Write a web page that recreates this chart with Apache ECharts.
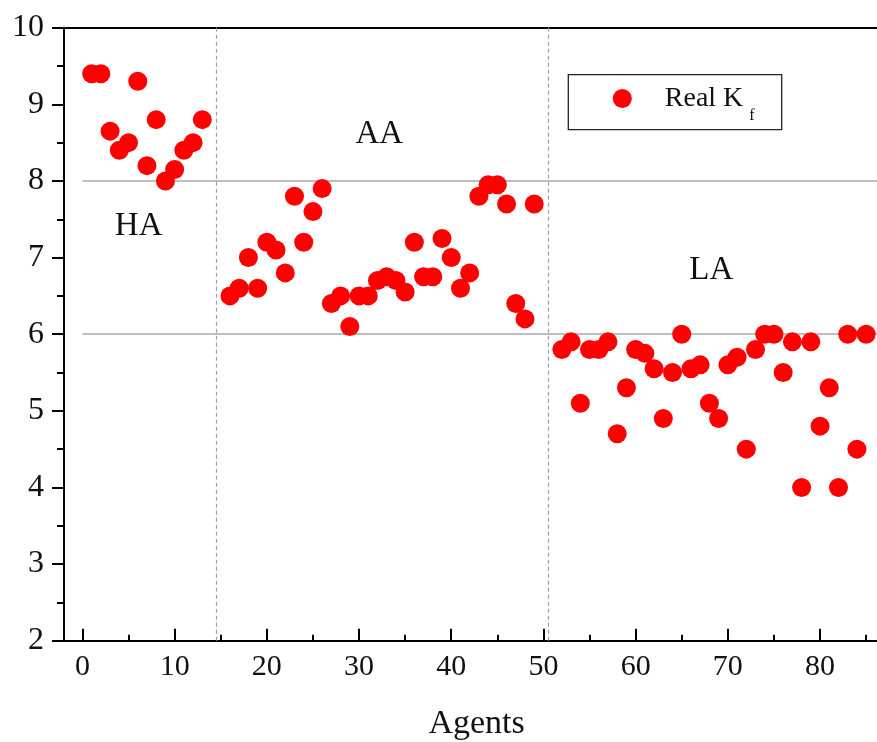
<!DOCTYPE html>
<html>
<head>
<meta charset="utf-8">
<script src="https://cdn.jsdelivr.net/npm/echarts@6/dist/echarts.min.js"></script>
<style>
html,body{margin:0;padding:0;background:#fff;}
#chart{width:877px;height:742px;}
</style>
</head>
<body>
<div id="chart"></div>
<script>
// ---- data ----
const haAgents = [1,2,3,4,5,6,7,8,9,10,11,12,13];
const haKf = [9.4,9.4,8.65,8.4,8.5,9.3,8.2,8.8,8.0,8.15,8.4,8.5,8.8];
const aaAgents = [16,17,18,19,20,21,22,23,24,25,26,27,28,29,30,31,32,33,34,35,36,37,38,39,40,41,42,43,44,45,46,47,48,49];
const aaKf = [6.5,6.6,7.0,6.6,7.2,7.1,6.8,7.8,7.2,7.6,7.9,6.4,6.5,6.1,6.5,6.5,6.7,6.75,6.7,6.55,7.2,6.75,6.75,7.25,7.0,6.6,6.8,7.8,7.95,7.95,7.7,6.4,6.2,7.7];
const laAgents = [52,53,54,55,56,57,58,59,60,61,62,63,64,65,66,67,68,69,70,71,72,73,74,75,76,77,78,79,80,81,82,83,84,85];
const laKf = [5.8,5.9,5.1,5.8,5.8,5.9,4.7,5.3,5.8,5.75,5.55,4.9,5.5,6.0,5.55,5.6,5.1,4.9,5.6,5.7,4.5,5.8,6.0,6.0,5.5,5.9,4.0,5.9,4.8,5.3,4.0,6.0,4.5,6.0];
const groupBounds = [14.5, 50.5];        // dashed separators
const refLevels = [8, 6];                // grey reference lines
const groupNames = ['HA', 'AA', 'LA'];
const groupLabelPos = [[6.1, 7.41], [32.2, 8.61], [68.2, 6.83]];
const seriesName = 'Real K';
const xName = 'Agents';

const agents = haAgents.concat(aaAgents, laAgents);
const kf = haKf.concat(aaKf, laKf);
const points = agents.map((a, i) => [a, kf[i]]);

const XMIN = -2, XMAX = 87.5;
const serif = "'Liberation Serif','Times New Roman',serif";
const ink = '#111';

const chart = echarts.init(document.getElementById('chart'), null, {renderer: 'canvas'});
chart.setOption({
  animation: false,
  backgroundColor: '#fff',
  grid: {left: 64, top: 27.7, width: 825.2, height: 613, containLabel: false, outerBoundsMode: 'none'},
  legend: {
    data: [seriesName],
    left: 612.8, top: 84.5, padding: 0,
    itemWidth: 19, itemHeight: 19, icon: 'circle',
    formatter: () => '{a|Real K}{b|f}',
    textStyle: {
      color: ink, fontFamily: serif,
      rich: {
        a: {fontSize: 28, fontFamily: serif, color: ink, padding: [0, 0, 0, 28]},
        b: {fontSize: 16, fontFamily: serif, color: ink, padding: [34, 0, 0, 6]}
      }
    }
  },
  graphic: [{
    type: 'rect', shape: {x: 568.3, y: 74.7, width: 213.4, height: 55},
    style: {fill: 'none', stroke: '#222', lineWidth: 1.3}, silent: true
  }],
  xAxis: [{
    type: 'value', min: XMIN, max: XMAX, splitNumber: 9,
    name: xName, nameLocation: 'middle', nameGap: 66,
    nameTextStyle: {fontFamily: serif, fontSize: 34, color: ink},
    axisLine: {show: true, onZero: false, lineStyle: {color: '#000', width: 2}},
    axisTick: {show: true, inside: true, length: 12, lineStyle: {color: '#000', width: 2}},
    minorTick: {show: true, splitNumber: 2, length: 6, lineStyle: {color: '#000', width: 2}},
    axisLabel: {fontFamily: serif, fontSize: 30, color: ink, margin: 11, showMinLabel: false, showMaxLabel: false,
      formatter: v => (v % 10 === 0 ? String(v) : '')},
    splitLine: {show: false}
  }, {
    type: 'value', position: 'top', min: XMIN, max: XMAX,
    axisLine: {show: true, onZero: false, lineStyle: {color: '#000', width: 2}},
    axisTick: {show: false}, axisLabel: {show: false}, splitLine: {show: false}
  }],
  yAxis: {
    type: 'value', min: 2, max: 10, interval: 1,
    axisLine: {show: true, onZero: false, lineStyle: {color: '#000', width: 2}},
    axisTick: {show: true, inside: false, length: 12, lineStyle: {color: '#000', width: 2}},
    minorTick: {show: true, splitNumber: 2, length: 7, lineStyle: {color: '#000', width: 2}},
    axisLabel: {fontFamily: serif, fontSize: 32, color: ink, margin: 20},
    splitLine: {show: false}
  },
  series: [{
    name: seriesName,
    type: 'scatter',
    data: points,
    symbol: 'circle',
    symbolSize: 19,
    itemStyle: {color: '#ff0000', opacity: 1},
    z: 5,
    markLine: {
      silent: true, symbol: 'none', animation: false,
      label: {show: false},
      data: groupBounds.map(x => ({xAxis: x, lineStyle: {color: '#a0a0a0', width: 1.2, type: [4, 3]}}))
        .concat(refLevels.map(y => [
          {coord: [0, y], lineStyle: {color: '#a8a8a8', width: 1.5, type: 'solid'}},
          {coord: [XMAX, y]}
        ]))
    },
    markPoint: {
      silent: true, symbol: 'circle', symbolSize: 1,
      itemStyle: {color: 'transparent'},
      label: {show: true, position: 'inside', formatter: '{b}', fontFamily: serif, fontSize: 33, color: ink},
      data: groupNames.map((n, i) => ({name: n, coord: groupLabelPos[i]}))
    }
  }]
});
</script>
</body>
</html>
